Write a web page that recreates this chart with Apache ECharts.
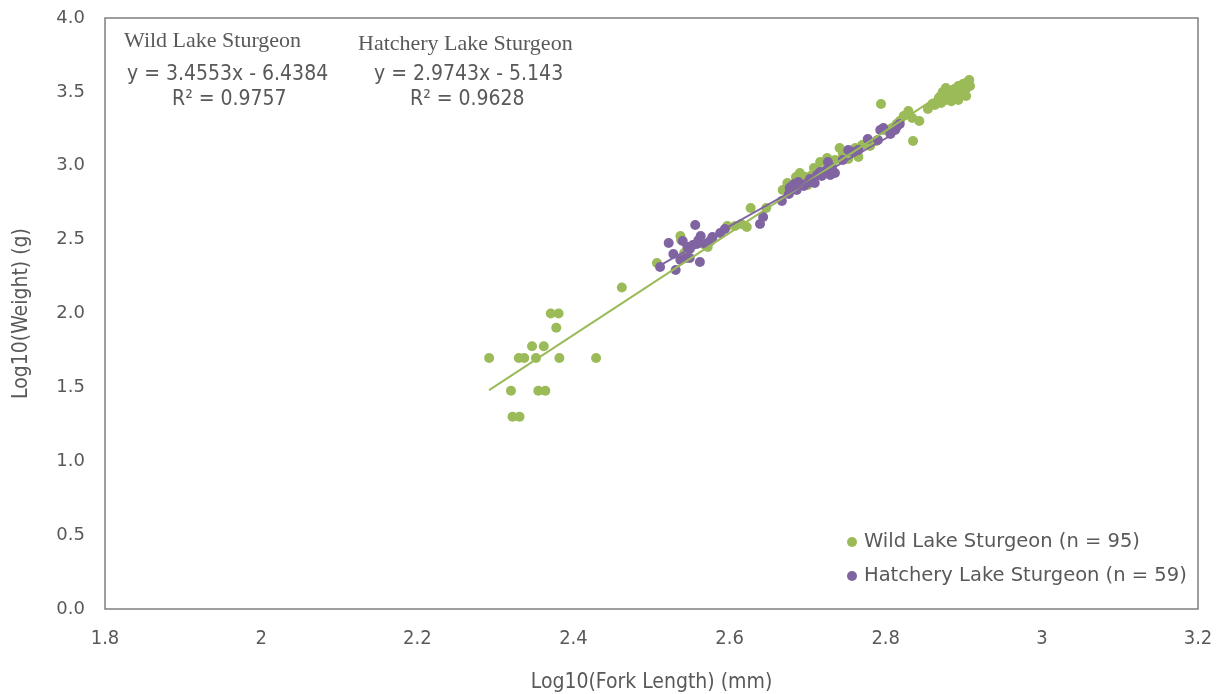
<!DOCTYPE html>
<html>
<head>
<meta charset="utf-8">
<script src="https://cdn.jsdelivr.net/npm/echarts@6/dist/echarts.min.js"></script>
<style>html,body{margin:0;padding:0;background:#fff}#c{width:1220px;height:694px}</style>
</head>
<body>
<div id="c"></div>
<script>
// ---- data ----
const wildName = 'Wild Lake Sturgeon (n = 95)';
const hatchName = 'Hatchery Lake Sturgeon (n = 59)';
const xTicks = [1.8, 2, 2.2, 2.4, 2.6, 2.8, 3, 3.2];
const yTicks = [0, 0.5, 1, 1.5, 2, 2.5, 3, 3.5, 4];

const wildPoints = [
  [2.292,1.699],[2.320,1.477],[2.322,1.301],[2.331,1.301],[2.330,1.699],[2.337,1.699],[2.347,1.778],[2.352,1.699],
  [2.355,1.477],[2.364,1.477],[2.362,1.778],[2.371,2.000],[2.381,2.000],[2.378,1.903],[2.382,1.699],[2.429,1.699],[2.462,2.176],
  [2.507,2.342],[2.538,2.497],[2.542,2.410],[2.547,2.450],[2.537,2.525],[2.566,2.470],[2.572,2.450],[2.578,2.510],
  [2.597,2.592],[2.607,2.592],[2.615,2.606],[2.622,2.585],[2.627,2.714],[2.647,2.714],
  [2.668,2.836],[2.674,2.883],[2.685,2.924],[2.690,2.951],[2.694,2.897],[2.704,2.931],[2.708,2.985],[2.716,3.025],
  [2.725,3.052],[2.730,3.005],[2.735,3.039],[2.741,3.120],[2.745,3.079],[2.752,3.046],[2.765,3.059],[2.761,3.120],
  [2.770,3.140],[2.780,3.134],[2.788,3.167],[2.713,2.971],[2.700,2.870],[2.680,2.836],[2.718,2.937],
  [2.794,3.418],[2.799,3.242],[2.808,3.255],[2.814,3.283],[2.818,3.303],[2.823,3.337],[2.829,3.370],[2.834,3.323],
  [2.835,3.168],[2.843,3.303],[2.854,3.384],
  [2.868,3.459],[2.871,3.425],[2.873,3.499],[2.877,3.526],[2.882,3.478],[2.886,3.513],[2.890,3.459],[2.893,3.540],
  [2.896,3.492],[2.899,3.553],[2.904,3.526],[2.907,3.580],[2.908,3.540],[2.893,3.445],[2.885,3.452],[2.877,3.445],
  [2.863,3.411],[2.880,3.499],[2.903,3.472],
  [2.876,3.486],[2.888,3.520],[2.900,3.505],[2.905,3.560],[2.870,3.470],[2.892,3.478],[2.884,3.436],[2.860,3.420],
  [2.710,2.955],[2.696,2.925],[2.559,2.480]
];

const hatchPoints = [
  [2.511,2.315],[2.522,2.477],[2.528,2.403],[2.531,2.294],[2.537,2.362],[2.540,2.491],[2.544,2.376],[2.549,2.437],
  [2.553,2.464],[2.556,2.599],[2.558,2.470],[2.562,2.349],[2.563,2.525],[2.569,2.470],[2.578,2.518],[2.588,2.545],
  [2.594,2.572],[2.549,2.376],
  [2.639,2.606],[2.643,2.653],[2.667,2.761],[2.676,2.809],[2.680,2.863],[2.683,2.876],[2.686,2.836],[2.690,2.876],
  [2.695,2.863],[2.700,2.883],[2.706,2.904],[2.712,2.937],[2.718,2.931],[2.724,2.971],[2.726,3.025],[2.731,2.985],
  [2.735,2.951],[2.677,2.849],[2.688,2.890],[2.709,2.883],[2.716,2.958],[2.729,2.937],
  [2.752,3.107],[2.758,3.093],[2.765,3.107],[2.777,3.181],[2.790,3.174],[2.793,3.242],[2.797,3.255],[2.806,3.215],
  [2.812,3.242],[2.818,3.283],[2.814,3.262],[2.745,3.039],
  [2.560,2.495],[2.575,2.490],[2.703,2.910],[2.693,2.870],[2.719,2.950],[2.684,2.850],[2.546,2.450]
];

// trendline coefficients (slope, intercept) as printed on chart
const wildFit = [3.4553, -6.4384];
const hatchFit = [2.9743, -5.143];
const wildR2 = '0.9757';
const hatchR2 = '0.9628';

// ---- build ----
function fitLine(points, fit) {
  const xs = points.map(p => p[0]);
  const x0 = Math.min.apply(null, xs), x1 = Math.max.apply(null, xs);
  return [[x0, fit[0]*x0 + fit[1]], [x1, fit[0]*x1 + fit[1]]];
}
function eqText(fit) {
  return 'y = ' + fit[0] + 'x - ' + Math.abs(fit[1]);
}

const GREEN = '#9BBB59', PURPLE = '#8064A2', TXT = '#595959';
const chart = echarts.init(document.getElementById('c'));
chart.setOption({
  animation: false,
  backgroundColor: '#fff',
  grid: { left: 105, right: 22, top: 18, bottom: 85, show: true, borderColor: '#7f7f7f', borderWidth: 1.5,
    containLabel: false, outerBoundsMode: 'none' },
  xAxis: {
    type: 'value', min: xTicks[0], max: xTicks[xTicks.length-1], interval: 0.2,
    name: 'Log10(Fork Length) (mm)', nameLocation: 'middle', nameGap: 63,
    nameTextStyle: { color: TXT, fontSize: 21, fontFamily: 'DejaVu Sans Condensed' },
    axisLine: { show: false }, axisTick: { show: false }, splitLine: { show: false },
    axisLabel: { color: TXT, fontSize: 20, fontFamily: 'DejaVu Sans Condensed', margin: 20,
      formatter: v => String(parseFloat(v.toFixed(1))) }
  },
  yAxis: {
    type: 'value', min: yTicks[0], max: yTicks[yTicks.length-1], interval: 0.5,
    name: 'Log10(Weight) (g)', nameLocation: 'middle', nameGap: 73,
    nameTextStyle: { color: TXT, fontSize: 21, fontFamily: 'DejaVu Sans Condensed' },
    axisLine: { show: false }, axisTick: { show: false }, splitLine: { show: false },
    axisLabel: { color: TXT, fontSize: 18, fontFamily: 'DejaVu Sans', margin: 20,
      formatter: v => v.toFixed(1) }
  },
  legend: {
    orient: 'vertical', left: 842, top: 527, itemGap: 14, itemWidth: 10, itemHeight: 10,
    icon: 'circle', data: [wildName, hatchName],
    textStyle: { color: TXT, fontSize: 19.5, fontFamily: 'DejaVu Sans', padding: [0,0,0,2] }
  },
  graphic: [
    { type: 'text', left: 124, top: 30, style: { text: 'Wild Lake Sturgeon', fill: TXT, font: '22px "Liberation Serif"' } },
    { type: 'text', left: 127, top: 64, style: { text: eqText(wildFit), fill: TXT, font: '21px "DejaVu Sans Condensed"' } },
    { type: 'text', left: 172, top: 89, style: { text: 'R² = ' + wildR2, fill: TXT, font: '21px "DejaVu Sans Condensed"' } },
    { type: 'text', left: 358, top: 33, style: { text: 'Hatchery Lake Sturgeon', fill: TXT, font: '22px "Liberation Serif"' } },
    { type: 'text', left: 374, top: 64, style: { text: eqText(hatchFit), fill: TXT, font: '21px "DejaVu Sans Condensed"' } },
    { type: 'text', left: 410, top: 89, style: { text: 'R² = ' + hatchR2, fill: TXT, font: '21px "DejaVu Sans Condensed"' } }
  ],
  series: [
    { name: wildName, type: 'scatter', data: wildPoints, symbolSize: 10, itemStyle: { color: GREEN, opacity: 1 } },
    { name: hatchName, type: 'scatter', data: hatchPoints, symbolSize: 10, itemStyle: { color: PURPLE, opacity: 1 } },
    { name: 'wildFit', type: 'line', data: fitLine(wildPoints, wildFit), symbol: 'none', lineStyle: { color: GREEN, width: 2 }, silent: true },
    { name: 'hatchFit', type: 'line', data: fitLine(hatchPoints, hatchFit), symbol: 'none', lineStyle: { color: PURPLE, width: 2 }, silent: true }
  ]
});
</script>
</body>
</html>
